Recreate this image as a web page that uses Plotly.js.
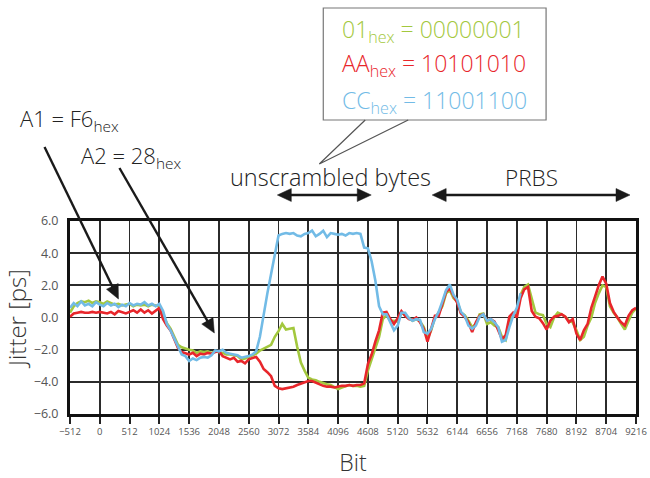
<!DOCTYPE html>
<html>
<head>
<meta charset="utf-8">
<script src="https://cdn.plot.ly/plotly-3.0.1.min.js"></script>
<style>html,body{margin:0;padding:0;background:#fff;}#chart{width:650px;height:478px;}</style>
</head>
<body>
<div id="chart"></div>
<script>
// Bit positions (common grid)
const bits = [-512,-448,-384,-320,-256,-192,-128,-64,0,64,128,192,256,320,384,448,512,576,640,704,768,832,896,960,1024,1088,1152,1216,1280,1344,1408,1472,1536,1600,1664,1728,1792,1856,1920,1984,2048,2112,2176,2240,2304,2368,2432,2496,2560,2624,2688,2752,2816,2880,2944,3008,3072,3136,3200,3264,3328,3392,3456,3520,3584,3648,3712,3776,3840,3904,3968,4032,4096,4160,4224,4288,4352,4416,4480,4544,4608,4672,4736,4800,4864,4928,4992,5056,5120,5184,5248,5312,5376,5440,5504,5568,5632,5696,5760,5824,5888,5952,6016,6080,6144,6208,6272,6336,6400,6464,6528,6592,6656,6720,6784,6848,6912,6976,7040,7104,7168,7232,7296,7360,7424,7488,7552,7616,7680,7744,7808,7872,7936,8000,8064,8128,8192,8256,8320,8384,8448,8512,8576,8640,8704,8768,8832,8896,8960,9024,9088,9152,9216];

// 01hex (green)
const jitter01 = [0.3,0.7,0.9,1.0,0.95,1.05,0.9,1.0,0.95,0.85,1.0,0.9,0.8,0.85,0.75,0.8,0.85,0.7,0.8,0.75,0.8,0.7,0.8,0.75,0.7,0.2,-0.35,-0.7,-1.2,-1.7,-1.85,-1.95,-2.0,-2.05,-2.2,-2.1,-2.15,-2.1,-2.2,-2.1,-2.15,-2.2,-2.3,-2.3,-2.35,-2.4,-2.6,-2.55,-2.45,-2.35,-2.25,-2.05,-1.95,-1.8,-1.7,-1.2,-0.85,-0.4,-0.75,-0.7,-0.65,-1.8,-2.8,-3.3,-3.75,-3.85,-3.9,-4.0,-4.1,-4.15,-4.2,-4.35,-4.45,-4.35,-4.25,-4.2,-4.25,-4.25,-4.3,-4.25,-3.3,-2.6,-1.8,-1.2,-0.1,0.15,-0.2,-0.2,-0.25,0.3,0.15,-0.05,-0.2,-0.1,-0.25,-0.6,-1.3,-0.8,0.0,0.3,0.7,1.5,1.7,1.2,1.0,0.3,0.15,-0.2,-0.6,-0.4,0.2,0.25,-0.4,-0.3,-0.5,-0.6,-1.2,-1.4,-0.2,0.1,0.2,1.4,1.9,2.05,1.2,0.3,0.2,0.15,-0.4,-0.6,0.0,0.3,0.2,0.05,-0.2,-0.3,-0.8,-1.4,-1.2,-0.5,0.0,0.9,1.5,2.0,1.9,0.7,0.3,0.0,-0.4,-0.75,-0.2,0.3,0.55];

// AAhex (red)
const jitterAA = [0.05,0.25,0.3,0.35,0.3,0.3,0.35,0.3,0.35,0.3,0.25,0.35,0.2,0.4,0.3,0.25,0.35,0.45,0.3,0.5,0.3,0.45,0.25,0.45,0.6,-0.1,-0.5,-0.8,-1.4,-1.9,-2.15,-2.25,-2.3,-2.2,-2.4,-2.25,-2.3,-2.2,-2.25,-2.15,-2.1,-2.4,-2.5,-2.6,-2.5,-2.75,-2.7,-2.85,-2.6,-2.5,-2.45,-2.75,-3.2,-3.4,-3.65,-4.25,-4.4,-4.45,-4.4,-4.35,-4.3,-4.2,-4.1,-4.05,-3.95,-3.95,-4.05,-4.2,-4.25,-4.3,-4.3,-4.35,-4.3,-4.25,-4.25,-4.2,-4.25,-4.2,-4.2,-4.1,-2.9,-2.3,-1.5,-0.8,0.3,0.35,-0.1,-0.4,-0.05,0.4,0.1,-0.1,-0.15,0.0,-0.3,-0.7,-1.5,-0.7,0.1,0.1,0.8,1.6,1.8,1.3,0.9,0.25,0.05,-0.3,-0.9,-0.3,0.1,0.2,-0.2,-0.1,-0.25,-0.8,-1.35,-1.1,0.05,0.3,0.0,1.2,1.75,1.9,0.4,0.05,-0.05,-0.35,-0.75,-0.2,0.05,0.1,0.2,0.05,-0.3,-0.1,-1.0,-1.4,-0.8,-0.4,0.6,1.3,2.0,2.55,2.1,0.9,0.35,0.0,-0.3,-0.5,0.1,0.45,0.6];

// CChex (blue) – ends at bit 7232
const jitterCC = [0.6,0.9,0.7,1.0,0.75,0.85,0.7,0.95,0.8,0.7,0.9,0.75,0.85,0.65,0.8,0.7,0.9,0.75,0.85,0.8,0.95,0.75,0.85,0.7,0.85,0.4,-0.4,-0.8,-1.3,-1.8,-2.3,-2.4,-2.7,-2.55,-2.65,-2.5,-2.45,-2.5,-2.35,-2.05,-2.1,-2.0,-2.2,-2.25,-2.3,-2.35,-2.5,-2.45,-2.4,-2.3,-2.1,-1.2,0.2,1.5,2.7,4.0,5.1,5.2,5.25,5.2,5.25,5.1,5.05,5.2,5.25,5.4,5.05,5.2,5.4,5.0,5.25,5.2,5.15,5.2,5.1,5.25,5.2,5.25,5.2,4.35,4.3,3.5,2.3,0.7,0.2,0.2,-0.3,-0.8,-0.5,0.3,0.3,-0.05,-0.2,-0.1,-0.15,-0.9,-1.0,-0.7,-0.1,0.35,1.0,1.7,2.05,1.4,1.1,0.35,0.1,-0.5,-0.7,-0.5,0.05,0.2,-0.2,-0.1,-0.3,-0.6,-1.5,-1.4,-0.6,0.1,0.6,1.5];

const xTickStart = -512, xTickStep = 512, xRange = [-512, 9216];
const yTicks = [-6, -4, -2, 0, 2, 4, 6];

const GREEN = '#a3c83e', RED = '#e8262b', BLUE = '#72bbe6';
const FONT = 'Open Sans, Noto Sans, sans-serif';
const INK = '#1a1a1a';

// pixel -> paper helpers (layout positions)
const W = 650, H = 478, ML = 69.5, MR = 14, MT = 221, MB = 64;
const pw = W - ML - MR, ph = H - MT - MB;
const px = p => (p - ML) / pw;
const py = p => (H - MB - p) / ph;

const traces = [
  {x: bits, y: jitter01, name: '01hex', mode: 'lines', line: {color: GREEN, width: 2.6}},
  {x: bits, y: jitterAA, name: 'AAhex', mode: 'lines', line: {color: RED, width: 2.6}},
  {x: bits.slice(0, jitterCC.length), y: jitterCC, name: 'CChex', mode: 'lines', line: {color: BLUE, width: 2.6}}
];

const txt = (text, x, y, color, size, anchor) => ({
  text: text, xref: 'paper', yref: 'paper', x: px(x), y: py(y),
  xanchor: anchor || 'left', yanchor: 'middle', showarrow: false,
  font: {family: FONT, size: size, color: color, weight: 300}
});

const annotations = [
  txt('01<sub>hex</sub> = 00000001', 340, 30, GREEN, 23),
  txt('AA<sub>hex</sub> = 10101010', 340, 64, RED, 23),
  txt('CC<sub>hex</sub> = 11001100', 340, 101, BLUE, 23),
  txt('A1 = F6<sub>hex</sub>', 17, 120, '#222', 22),
  txt('A2 = 28<sub>hex</sub>', 79, 157, '#222', 22),
  txt('unscrambled bytes', 330, 177, '#222', 23.5, 'center'),
  txt('PRBS', 531, 177, '#222', 22.5, 'center')
];

// arrow geometry helpers (pixel positions -> paper shapes)
function headPath(tx, ty, fx, fy, len, half) {
  const dx = tx - fx, dy = ty - fy, d = Math.hypot(dx, dy);
  const ux = dx / d, uy = dy / d;
  const bx = tx - ux * len, by = ty - uy * len;
  const nx = -uy * half, ny = ux * half;
  return {
    type: 'path', xref: 'paper', yref: 'paper', fillcolor: INK, line: {color: INK, width: 0.5},
    path: `M ${px(tx)} ${py(ty)} L ${px(bx + nx)} ${py(by + ny)} L ${px(bx - nx)} ${py(by - ny)} Z`
  };
}
function arrowShapes(x0, y0, x1, y1, both) {
  const len = 14, half = 6.5;
  const d = Math.hypot(x1 - x0, y1 - y0), ux = (x1 - x0) / d, uy = (y1 - y0) / d;
  const sx = both ? x0 + ux * (len - 2) : x0, sy = both ? y0 + uy * (len - 2) : y0;
  const ex = x1 - ux * (len - 2), ey = y1 - uy * (len - 2);
  const out = [{type: 'line', xref: 'paper', yref: 'paper', x0: px(sx), y0: py(sy), x1: px(ex), y1: py(ey),
                line: {color: INK, width: 2.4}}, headPath(x1, y1, x0, y0, len, half)];
  if (both) out.push(headPath(x0, y0, x1, y1, len, half));
  return out;
}

const shapes = [
  {type: 'rect', xref: 'paper', yref: 'paper', x0: px(323), x1: px(546), y0: py(120), y1: py(8),
   line: {color: '#777', width: 1.2}, fillcolor: 'rgba(0,0,0,0)'},
  {type: 'path', xref: 'paper', yref: 'paper',
   path: `M ${px(365)} ${py(120)} L ${px(319)} ${py(164)} L ${px(408)} ${py(120)}`,
   line: {color: '#555', width: 1.2}},
  ...arrowShapes(44, 147, 118, 299, false),
  ...arrowShapes(119, 168, 214, 333, false),
  ...arrowShapes(277, 195, 371, 195, true),
  ...arrowShapes(432, 195, 630, 195, true)
];

const layout = {
  width: W, height: H,
  margin: {l: ML, r: MR, t: MT, b: MB, pad: 0},
  paper_bgcolor: '#fff', plot_bgcolor: '#fff',
  showlegend: false,
  font: {family: FONT, color: '#444'},
  xaxis: {
    range: xRange, tickmode: 'linear', tick0: xTickStart, dtick: xTickStep,
    showgrid: true, gridcolor: '#2b2b2b', gridwidth: 1.8, zeroline: false,
    showline: true, mirror: true, linecolor: '#111', linewidth: 3,
    ticks: 'outside', ticklen: 7, tickwidth: 2, tickcolor: '#222',
    tickfont: {size: 9.5, color: '#555', family: FONT},
    title: {text: 'Bit', font: {size: 23, color: '#333', family: FONT, weight: 300}, standoff: 22}
  },
  yaxis: {
    range: [-6, 6], tickmode: 'array', tickvals: yTicks, tickformat: '.1f',
    showgrid: true, gridcolor: '#2b2b2b', gridwidth: 1.8, zeroline: false,
    showline: true, mirror: true, linecolor: '#111', linewidth: 3,
    ticks: '', ticklabelstandoff: 6,
    tickfont: {size: 12.5, color: '#555', family: FONT},
    title: {text: 'Jitter [ps]', font: {size: 24, color: '#333', family: FONT, weight: 300}}
  },
  annotations: annotations,
  shapes: shapes
};

Plotly.newPlot('chart', traces, layout, {displayModeBar: false, staticPlot: true});
</script>
</body>
</html>
